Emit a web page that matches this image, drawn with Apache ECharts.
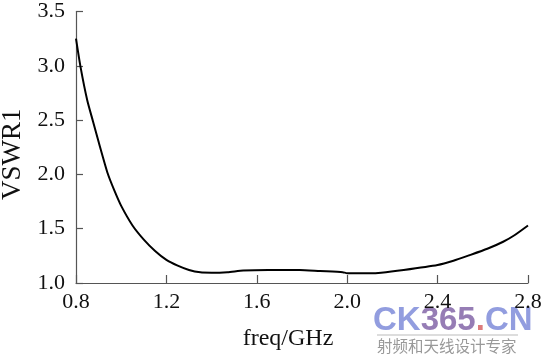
<!DOCTYPE html>
<html><head><meta charset="utf-8">
<script src="https://cdn.jsdelivr.net/npm/echarts@6/dist/echarts.min.js"></script>
<style>html,body{margin:0;padding:0;background:#fff}#c{width:550px;height:355px}</style>
</head><body><div id="c"></div>
<script>
const freq = [0.80,0.82,0.85,0.875,0.90,0.94,0.97,1.00,1.05,1.10,1.15,1.20,1.25,1.30,1.35,1.40,1.47,1.54,1.65,1.79,1.88,1.98,2.00,2.10,2.15,2.25,2.40,2.47,2.54,2.62,2.69,2.74,2.80];
const vswr = [3.25,2.99,2.68,2.49,2.30,2.01,1.85,1.71,1.53,1.40,1.295,1.213,1.16,1.12,1.098,1.095,1.10,1.115,1.12,1.12,1.11,1.10,1.09,1.09,1.095,1.12,1.166,1.205,1.255,1.315,1.38,1.44,1.53];
const xTicks = [0.8,1.2,1.6,2.0,2.4,2.8];
const yTicks = [1.0,1.5,2.0,2.5,3.0,3.5];
const serif = '"Liberation Serif", "DejaVu Serif", serif';
const chart = echarts.init(document.getElementById('c'));
chart.setOption({
  animation:false,
  grid:{left:76,right:22,top:11.5,bottom:72,outerBoundsMode:'none',containLabel:false},
  xAxis:{type:'value',min:0.8,max:2.8,interval:0.4,
    name:'freq/GHz',nameLocation:'middle',nameGap:44,
    nameTextStyle:{fontFamily:serif,fontSize:24,color:'#111',padding:[0,28,0,0]},
    axisLine:{show:true,onZero:false,lineStyle:{color:'#555',width:1.2}},
    axisTick:{show:true,inside:true,length:8,lineStyle:{color:'#555',width:1.2}},
    axisLabel:{margin:8,fontFamily:serif,fontSize:22,color:'#111',formatter:v=>v.toFixed(1)},
    splitLine:{show:false}},
  yAxis:{type:'value',min:1.0,max:3.5,interval:0.5,
    name:'VSWR1',nameLocation:'middle',nameGap:48,
    nameTextStyle:{fontFamily:serif,fontSize:27,color:'#111',padding:[0,14,0,0]},
    axisLine:{show:true,onZero:false,lineStyle:{color:'#555',width:1.2}},
    axisTick:{show:true,inside:true,length:7,lineStyle:{color:'#555',width:1.2}},
    axisLabel:{margin:11,fontFamily:serif,fontSize:22,color:'#111',formatter:v=>v.toFixed(1)},
    splitLine:{show:false}},
  series:[{type:'line',data:freq.map((f,i)=>[f,vswr[i]]),smooth:0.2,showSymbol:false,
    lineStyle:{color:'#000',width:2}}],
  graphic:[
    {type:'text',left:373,top:304,style:{text:'{b|CK}{p|365}{r|.}{b|CN}',
      rich:{b:{fontFamily:'"Liberation Sans", Arial, sans-serif',fontWeight:'bold',fontSize:33,fill:'rgba(100,115,210,0.7)'},
            p:{fontFamily:'"Liberation Sans", Arial, sans-serif',fontWeight:'bold',fontSize:33,fill:'rgba(105,70,150,0.7)'},
            r:{fontFamily:'"Liberation Sans", Arial, sans-serif',fontWeight:'bold',fontSize:33,fill:'rgba(210,80,80,0.75)'}}}},
    {type:'rect',shape:{x:377,y:334.5,width:141,height:1},style:{fill:'#bbb'}},
    {type:'text',left:377,top:338,style:{text:'射频和天线设计专家',fontFamily:'"Noto Sans CJK SC", sans-serif',fontSize:15.5,fill:'#999'}}
  ]
});
</script></body></html>
